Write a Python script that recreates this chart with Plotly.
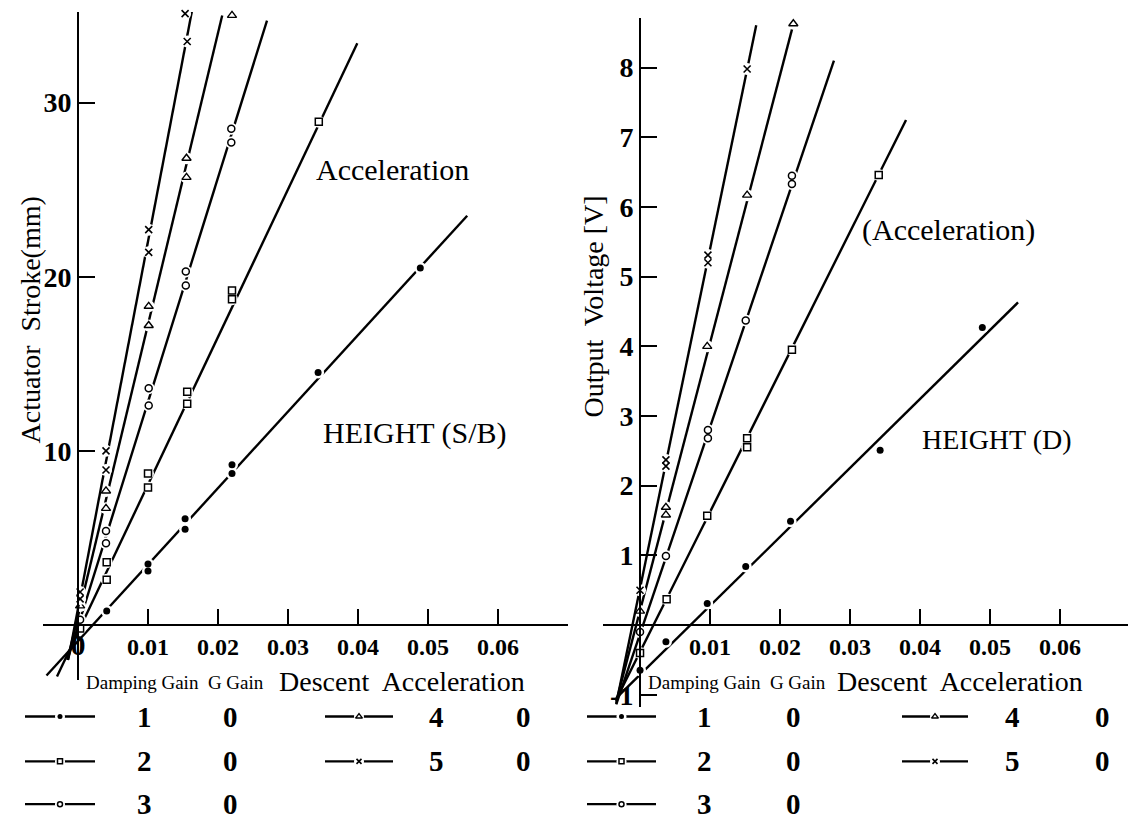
import plotly.graph_objects as go

W, H = 1128, 838
SERIF = "Liberation Serif"

# ---- Left panel: actuator stroke [mm] vs descent acceleration ----
stroke_acc_1 = [0.0041, 0.0100, 0.0100, 0.0153, 0.0153, 0.0220, 0.0220, 0.0343, 0.0489]
stroke_mm_1 = [0.8, 3.5, 3.1, 6.1, 5.5, 9.2, 8.7, 14.5, 20.5]
stroke_acc_2 = [0.0003, 0.0041, 0.0041, 0.0100, 0.0100, 0.0156, 0.0156, 0.0220, 0.0220, 0.0344]
stroke_mm_2 = [-0.2, 3.6, 2.6, 8.7, 7.9, 13.4, 12.7, 19.2, 18.7, 28.9]
stroke_acc_3 = [0.0003, 0.0040, 0.0040, 0.0101, 0.0101, 0.0154, 0.0154, 0.0219, 0.0219]
stroke_mm_3 = [0.3, 5.4, 4.7, 13.6, 12.6, 20.3, 19.5, 28.5, 27.7]
stroke_acc_4 = [0.0003, 0.0040, 0.0040, 0.0101, 0.0101, 0.0155, 0.0155, 0.0220]
stroke_mm_4 = [1.1, 7.7, 6.7, 18.3, 17.2, 26.8, 25.7, 35.0]
stroke_acc_5 = [0.0003, 0.0003, 0.0040, 0.0040, 0.0101, 0.0101, 0.0156, 0.0153]
stroke_mm_5 = [1.5, 1.9, 10.0, 8.9, 22.7, 21.4, 33.5, 35.1]

# hand-drawn trend lines (end points)
stroke_fit_acc_1 = [-0.0045, 0.0556]
stroke_fit_mm_1 = [-2.9, 23.5]
stroke_fit_acc_2 = [-0.0030, 0.0399]
stroke_fit_mm_2 = [-2.95, 33.4]
stroke_fit_acc_3 = [-0.0015, 0.0270]
stroke_fit_mm_3 = [-2.0, 34.7]
stroke_fit_acc_4 = [-0.0015, 0.0206]
stroke_fit_mm_4 = [-2.0, 35.0]
stroke_fit_acc_5 = [-0.0014, 0.0163]
stroke_fit_mm_5 = [-2.0, 35.3]

# ---- Right panel: output voltage [V] vs descent acceleration ----
volt_acc_1 = [0.0000, 0.0037, 0.0096, 0.0151, 0.0215, 0.0343, 0.0489]
volt_v_1 = [-0.65, -0.24, 0.31, 0.84, 1.49, 2.51, 4.27]
volt_acc_2 = [0.0000, 0.0038, 0.0096, 0.0153, 0.0153, 0.0217, 0.0341]
volt_v_2 = [-0.4, 0.37, 1.57, 2.55, 2.68, 3.95, 6.46]
volt_acc_3 = [0.0000, 0.0037, 0.0097, 0.0097, 0.0151, 0.0217, 0.0217]
volt_v_3 = [-0.1, 0.99, 2.68, 2.80, 4.37, 6.33, 6.45]
volt_acc_4 = [0.0000, 0.0037, 0.0037, 0.0096, 0.0153, 0.0219]
volt_v_4 = [0.2, 1.69, 1.58, 4.0, 6.17, 8.63]
volt_acc_5 = [0.0000, 0.0037, 0.0037, 0.0097, 0.0097, 0.0153]
volt_v_5 = [0.5, 2.37, 2.28, 5.31, 5.2, 7.98]

volt_fit_acc_1 = [-0.0034, 0.0540]
volt_fit_v_1 = [-1.05, 4.63]
volt_fit_acc_2 = [-0.0034, 0.0380]
volt_fit_v_2 = [-1.07, 7.25]
volt_fit_acc_3 = [-0.0034, 0.0277]
volt_fit_v_3 = [-1.14, 8.1]
volt_fit_acc_4 = [-0.0034, 0.0221]
volt_fit_v_4 = [-1.1, 8.7]
volt_fit_acc_5 = [-0.0034, 0.0166]
volt_fit_v_5 = [-1.13, 8.61]

# ---- axis ticks ----
acc_ticks = [0, 0.01, 0.02, 0.03, 0.04, 0.05, 0.06]
acc_tick_text_left = ["<span style='font-size:30px'>0</span>", "0.01", "0.02", "0.03",
                      "0.04", "0.05", "0.06"]
acc_ticks_right = [0.01, 0.02, 0.03, 0.04, 0.05, 0.06]
acc_tick_text_right = ["0.01", "0.02", "0.03", "0.04", "0.05", "0.06"]
stroke_ticks = [10, 20, 30]
volt_ticks = [-1, 1, 2, 3, 4, 5, 6, 7, 8]
volt_tick_text = ["-1", "1", "2", "3", "4", "5", "6", "7", "8"]

# legend table: damping gain and G gain per series
damping_gain = ["1", "2", "3", "4", "5"]
g_gain = ["0", "0", "0", "0", "0"]

# marker styles per series
STYLES = [
    dict(symbol="circle", size=7, color="black", line=dict(width=0, color="black")),
    dict(symbol="square", size=7, color="white", line=dict(width=1.5, color="black")),
    dict(symbol="circle", size=7, color="white", line=dict(width=1.5, color="black")),
    dict(symbol="triangle-up", size=8, color="white", line=dict(width=1.4, color="black")),
    dict(symbol="x-thin", size=7, color="black", line=dict(width=1.6, color="black")),
]


def px_x(p):
    return p / W


def px_y(p):
    return 1 - p / H


fig = go.Figure()


def add_series(xa, ya, fit_x, fit_y, pts_x, pts_y, style):
    fig.add_trace(go.Scatter(x=fit_x, y=fit_y, mode="lines", xaxis=xa, yaxis=ya,
                             line=dict(color="black", width=2.4), cliponaxis=False,
                             hoverinfo="skip", showlegend=False))
    fig.add_trace(go.Scatter(x=pts_x, y=pts_y, mode="markers", xaxis=xa, yaxis=ya,
                             marker=dict(symbol="circle", size=12, color="white"),
                             cliponaxis=False, hoverinfo="skip", showlegend=False))
    fig.add_trace(go.Scatter(x=pts_x, y=pts_y, mode="markers", xaxis=xa, yaxis=ya,
                             marker=style, cliponaxis=False, showlegend=False))


left_sets = [
    (stroke_fit_acc_1, stroke_fit_mm_1, stroke_acc_1, stroke_mm_1),
    (stroke_fit_acc_2, stroke_fit_mm_2, stroke_acc_2, stroke_mm_2),
    (stroke_fit_acc_3, stroke_fit_mm_3, stroke_acc_3, stroke_mm_3),
    (stroke_fit_acc_4, stroke_fit_mm_4, stroke_acc_4, stroke_mm_4),
    (stroke_fit_acc_5, stroke_fit_mm_5, stroke_acc_5, stroke_mm_5),
]
right_sets = [
    (volt_fit_acc_1, volt_fit_v_1, volt_acc_1, volt_v_1),
    (volt_fit_acc_2, volt_fit_v_2, volt_acc_2, volt_v_2),
    (volt_fit_acc_3, volt_fit_v_3, volt_acc_3, volt_v_3),
    (volt_fit_acc_4, volt_fit_v_4, volt_acc_4, volt_v_4),
    (volt_fit_acc_5, volt_fit_v_5, volt_acc_5, volt_v_5),
]
for (fx, fy, px_, py_), st in zip(left_sets, STYLES):
    add_series("x", "y", fx, fy, px_, py_, st)
for (fx, fy, px_, py_), st in zip(right_sets, STYLES):
    add_series("x2", "y2", fx, fy, px_, py_, st)

# ---- legend glyphs drawn on a full-page overlay axis (pixel units) ----
legend_cols = [(25, 95, 144, 230), (325, 393, 436, 523),
               (587, 656, 704, 793), (902, 968, 1012, 1102)]
legend_rows = [720, 765, 808]
# (column index, row index) for series 1..5 in each panel
panel_slots = [[(0, 0), (0, 1), (0, 2), (1, 0), (1, 1)],
               [(2, 0), (2, 1), (2, 2), (3, 0), (3, 1)]]

annotations = []
for slots in panel_slots:
    for i, (c, r) in enumerate(slots):
        x0, x1, xn, xg = legend_cols[c]
        yy = legend_rows[r]
        fig.add_trace(go.Scatter(x=[x0, x1], y=[yy, yy], mode="lines", xaxis="x3", yaxis="y3",
                                 line=dict(color="black", width=2.4), hoverinfo="skip",
                                 showlegend=False))
        fig.add_trace(go.Scatter(x=[(x0 + x1) / 2], y=[yy], mode="markers", xaxis="x3",
                                 yaxis="y3", marker=dict(symbol="circle", size=10, color="white"),
                                 hoverinfo="skip", showlegend=False))
        st = dict(STYLES[i])
        st["size"] = st["size"] - 2
        fig.add_trace(go.Scatter(x=[(x0 + x1) / 2], y=[yy], mode="markers", xaxis="x3",
                                 yaxis="y3", marker=st, hoverinfo="skip", showlegend=False))
        for txt, xc in ((damping_gain[i], xn), (g_gain[i], xg)):
            annotations.append(dict(x=px_x(xc), y=px_y(yy), xref="paper", yref="paper",
                                    text=txt, showarrow=False, xanchor="center",
                                    yanchor="middle",
                                    font=dict(family=SERIF, size=29, color="black",
                                              weight="bold")))


def label(text, x, y, size, angle=0, weight="normal"):
    annotations.append(dict(x=px_x(x), y=px_y(y), xref="paper", yref="paper", text=text,
                            showarrow=False, xanchor="center", yanchor="middle",
                            textangle=angle,
                            font=dict(family=SERIF, size=size, color="black", weight=weight)))


label("Acceleration", 392, 170, 30)
label("HEIGHT (S/B)", 415, 435, 30)
label("(Acceleration)", 948, 231, 30)
label("HEIGHT (D)", 997, 442, 28)
label("Actuator  Stroke(mm)", 30, 322, 28, angle=-90)
label("Output  Voltage [V]", 594, 308, 28, angle=-90)
label("Damping Gain  G Gain", 175, 686, 19)
label("Descent  Acceleration", 402, 685, 28)
label("Damping Gain  G Gain", 737, 686, 19)
label("Descent  Acceleration", 960, 685, 28)

# ---- axes: panels cross at the origin ----
ZERO_Y = px_y(628)
axis_common = dict(showgrid=False, zeroline=False, showline=True, linecolor="black",
                   linewidth=2, ticks="inside", tickcolor="black", tickwidth=1.6,
                   anchor="free")
tickfont_x = dict(family=SERIF, size=24, color="black", weight="bold")
tickfont_y = dict(family=SERIF, size=28, color="black", weight="bold")

fig.update_layout(
    width=W, height=H, margin=dict(l=0, r=0, t=0, b=0),
    paper_bgcolor="white", plot_bgcolor="rgba(0,0,0,0)", showlegend=False,
    xaxis=dict(domain=[px_x(43), px_x(568)], range=[-0.005, 0.070], position=ZERO_Y,
               tickvals=acc_ticks, ticktext=acc_tick_text_left, ticklen=15,
               tickfont=tickfont_x, **axis_common),
    yaxis=dict(domain=[px_y(683), px_y(12)], range=[-3.14, 35.2], position=px_x(78),
               tickvals=stroke_ticks, ticklen=16, tickfont=tickfont_y, **axis_common),
    xaxis2=dict(domain=[px_x(603), 1.0], range=[-0.00529, 0.06971], position=ZERO_Y,
                tickvals=acc_ticks_right, ticktext=acc_tick_text_right, ticklen=15,
                tickfont=tickfont_x, **axis_common),
    yaxis2=dict(domain=[px_y(710), px_y(18)], range=[-1.171, 8.714], position=px_x(640),
                tickvals=volt_ticks, ticktext=volt_tick_text, ticklen=16,
                tickfont=tickfont_y, **axis_common),
    xaxis3=dict(domain=[0, 1], range=[0, W], visible=False, anchor="y3"),
    yaxis3=dict(domain=[0, 1], range=[H, 0], visible=False, anchor="x3"),
    annotations=annotations,
)

fig.write_html("out.html")
